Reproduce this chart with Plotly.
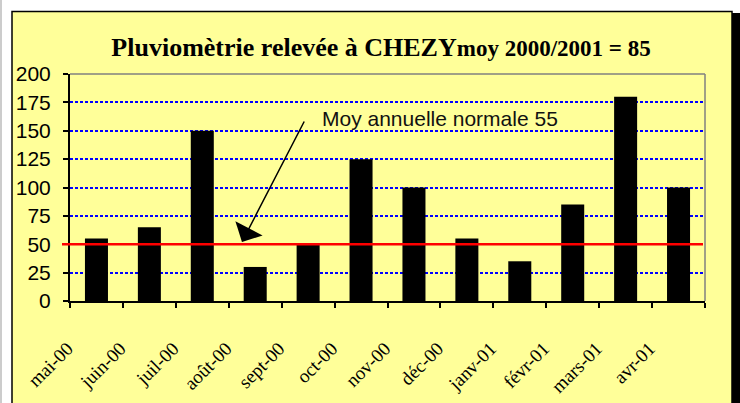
import plotly.graph_objects as go

months = ["mai-00", "juin-00", "juil-00", "août-00", "sept-00", "oct-00",
          "nov-00", "déc-00", "janv-01", "févr-01", "mars-01", "avr-01"]
rain = [55, 65, 150, 30, 50, 125, 100, 55, 35, 85, 180, 100]
normal_ref = 50
y_ticks = [0, 25, 50, 75, 100, 125, 150, 175, 200]

W, H = 740, 403
L, R, T, B = 70, 35, 74, 102
pw, ph = W - L - R, H - T - B


def px_x(px):
    return (px - L) / pw


def px_y(py):
    return (H - B - py) / ph


fig = go.Figure()
fig.add_trace(go.Bar(x=months, y=rain, marker=dict(color="black", line=dict(width=0)),
                     width=0.435, showlegend=False))

shapes = [
    # outer frame shadow
    dict(type="rect", xref="paper", yref="paper", x0=px_x(730), x1=px_x(741),
         y0=px_y(404), y1=px_y(13), fillcolor="black", line=dict(width=0), layer="below"),
    # yellow frame
    dict(type="rect", xref="paper", yref="paper", x0=px_x(12), x1=px_x(732),
         y0=px_y(406), y1=px_y(11.5), fillcolor="#FFFF99",
         line=dict(color="black", width=1.5), layer="below"),
    # thin left line
    dict(type="line", xref="paper", yref="paper", x0=px_x(1), x1=px_x(1),
         y0=px_y(0), y1=px_y(403), line=dict(color="#999999", width=1), layer="below"),
    # plot area top/right border
    dict(type="line", xref="paper", yref="paper", x0=0, x1=1, y0=1, y1=1,
         line=dict(color="#808080", width=1.5), layer="above"),
    dict(type="line", xref="paper", yref="paper", x0=1, x1=1, y0=0, y1=1,
         line=dict(color="#808080", width=1.5), layer="above"),
    # normal line
    dict(type="line", xref="paper", yref="y", x0=px_x(62), x1=px_x(703),
         y0=normal_ref, y1=normal_ref, line=dict(color="#FF0000", width=2.5), layer="above"),
]

annotations = [
    dict(x=px_x(320), xref="paper", y=161, yref="y", text="Moy annuelle normale 55",
         showarrow=False, xanchor="left", yanchor="middle",
         font=dict(family="Liberation Sans", size=21, color="#111111")),
    dict(x=2.75, xref="x", y=52, yref="y", text="", showarrow=True,
         ax=63, ay=-122, axref="pixel", ayref="pixel",
         arrowhead=1, arrowsize=3.4, arrowwidth=1.5, arrowcolor="black"),
]

fig.update_layout(
    width=W, height=H,
    margin=dict(l=L, r=R, t=T, b=B, autoexpand=False),
    paper_bgcolor="white",
    plot_bgcolor="#CCFFFF",
    bargap=0.565,
    title=dict(
        text="<b>Pluviomètrie relevée à CHEZY</b><b><span style='font-size:23px'>moy 2000/2001 = 85</span></b>",
        x=381 / W, xanchor="center", xref="container",
        y=1 - 47 / H, yanchor="middle", yref="container",
        font=dict(family="Liberation Serif", size=26, color="black"),
    ),
    shapes=shapes,
    annotations=annotations,
    xaxis=dict(
        type="category", showgrid=False, showline=True, linecolor="black", linewidth=2,
        ticks="outside", tickson="boundaries", ticklen=5, tickcolor="black", tickwidth=1.5,
        tickangle=-45, ticklabelshift=-29, ticklabelstandoff=27, automargin=False,
        tickfont=dict(family="Liberation Serif", size=19, color="black"),
        range=[-0.5, 11.5], fixedrange=True,
    ),
    yaxis=dict(
        range=[0, 200], tickvals=y_ticks, showline=True, linecolor="black", linewidth=2,
        ticks="outside", ticklen=5, tickcolor="black", tickwidth=1.5,
        showgrid=True, gridcolor="#0000FF", gridwidth=1.5, griddash="3px,2px",
        zeroline=False, ticklabelstandoff=8, automargin=False, fixedrange=True,
        tickfont=dict(family="Liberation Sans", size=21, color="black"),
    ),
)

fig.write_html("out.html", config={"displayModeBar": False},
               post_script="document.body.style.margin='0px';document.body.style.overflow='hidden';")
